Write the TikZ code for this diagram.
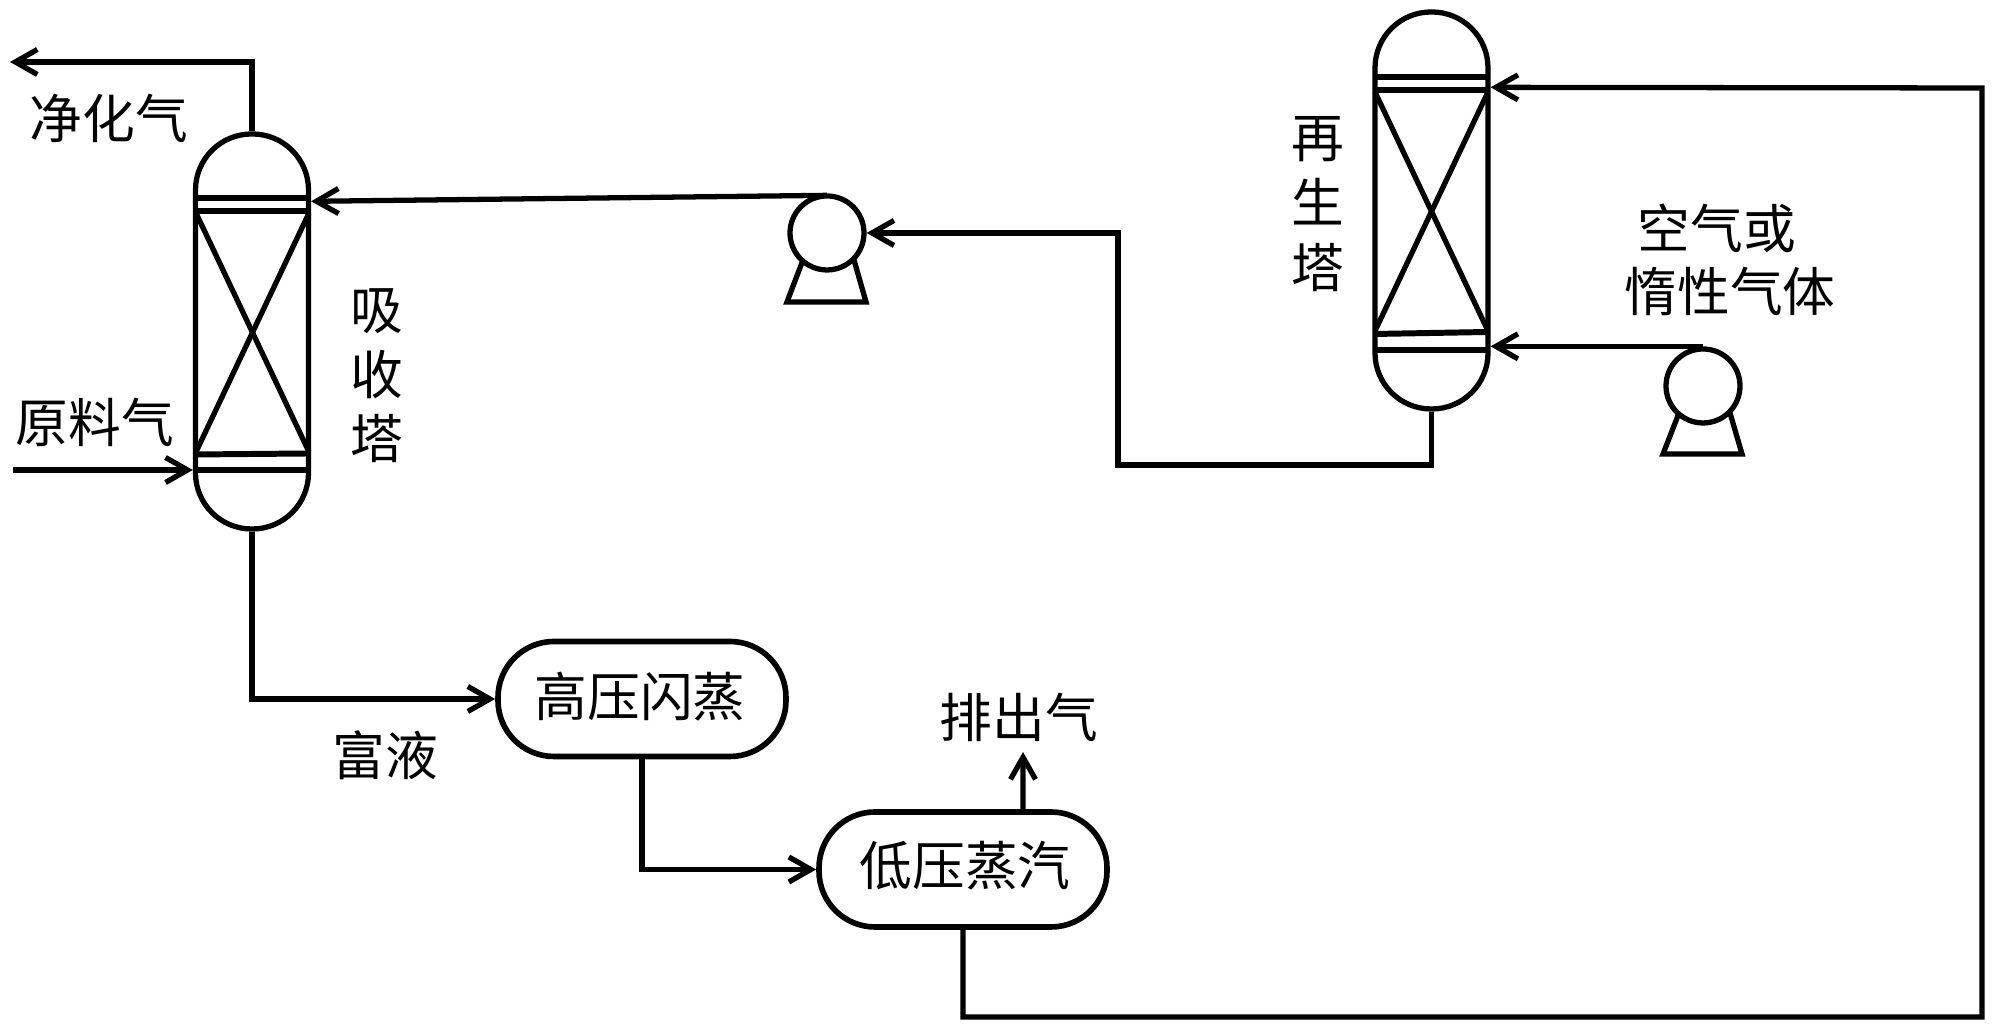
\documentclass[tikz,border=0pt]{standalone}
\usepackage{fontspec}
\newfontfamily\cjk{Noto Sans CJK SC}
\usetikzlibrary{arrows.meta}
\tikzset
{
    flow/.style={->, line width=1.5pt}, % process lines
    tower/.style={draw, line width=1.5pt, rectangle, minimum width=1.13cm, rounded corners=0.56cm, inner sep=0pt},
    vessel/.style={draw, line width=1.6pt, rectangle, minimum width=2.88cm, minimum height=1.15cm, rounded corners=0.56cm, inner sep=0pt},
    pump/.style={draw, line width=1.5pt, circle, minimum size=0.74cm, inner sep=0pt},
    tray/.style={line width=1.7pt},
    leg/.style={line width=1.5pt},
    txt/.style={inner sep=0pt, align=center, font=\fontsize{15}{18.4}\selectfont\cjk},
}

\begin{document}
\begin{tikzpicture}[>={Straight Barb[length=2.2mm,width=2.5mm]}]
    \useasboundingbox (0,0) rectangle (20,10.29);

    % Towers
    \node[tower, minimum height=3.95cm] (t1) at (2.52,6.975) {};
    \node[tower, minimum height=3.97cm] (t2) at (14.315,8.185) {};

    % Tower internals
    \draw[tray] (1.96,8.31) -- (3.09,8.31);
    \draw[tray] (1.96,8.18) -- (3.09,8.18);
    \draw[tray] (1.96,5.745) -- (3.09,5.755);
    \draw[tray] (1.96,5.59) -- (3.09,5.59);
    \draw[leg] (1.96,8.16) -- (3.09,5.77);
    \draw[leg] (3.09,8.16) -- (1.96,5.77);

    \draw[tray] (13.75,9.52) -- (14.88,9.52);
    \draw[tray] (13.75,9.39) -- (14.88,9.39);
    \draw[tray] (13.75,6.95) -- (14.88,6.97);
    \draw[tray] (13.75,6.79) -- (14.88,6.79);
    \draw[leg] (13.75,9.37) -- (14.88,6.98);
    \draw[leg] (14.88,9.37) -- (13.75,6.98);

    % Pumps
    \node[pump] (p1) at (8.27,7.96) {};
    \node[pump] (p2) at (17.03,6.43) {};
    \draw[leg] (8.03,7.69) -- (7.87,7.27) -- (8.66,7.27) -- (8.54,7.69);
    \draw[leg] (16.79,6.16) -- (16.63,5.75) -- (17.42,5.75) -- (17.30,6.16);

    % Flash vessels
    \node[vessel] (hp) at (6.42,3.30) {};
    \node[vessel] (lp) at (9.63,1.595) {};

    % Free ends and bends
    \coordinate (gasout) at (0.10,9.67);
    \coordinate (feed) at (0.13,5.59);
    \coordinate (vent) at (10.23,2.77);
    \coordinate (c1) at (19.82,0.12);
    \coordinate (c2) at (19.82,9.41);
    \coordinate (c3) at (11.18,5.64);

    % Lines
    \draw[flow] (t1.north) |- (gasout);
    \draw[flow] (feed) -- (t1.south west |- feed);
    \draw[flow] ([yshift=-0.02cm]p1.north) -- ([yshift=-0.70cm]t1.north east);
    \draw[flow] (t1.south) |- (hp.west);
    \draw[flow] (hp.south) |- (lp.west);
    \draw[flow] ([xshift=0.60cm]lp.north) -- (vent);
    \draw[flow] (lp.south) |- (c1) -- (c2) -- ([yshift=-0.78cm]t2.north east);
    \draw[flow] (t2.south) |- (c3) |- (p1.east);
    \draw[flow] (p2.north) -- (p2.north -| t2.east);

    % Labels
    \node[txt] (purified) at (1.09,9.11) {净化气};
    \node[txt] (rawgas) at (0.95,6.07) {原料气};
    \node[txt] (absorber) at (3.77,6.53) {吸\\收\\塔};
    \node[txt] (regen) at (13.18,8.25) {再\\生\\塔};
    \node[txt] (air) at (17.17,8.01) {空气或};
    \node[txt] (inert) at (17.30,7.38) {惰性气体};
    \node[txt] (hptext) at (6.40,3.32) {高压闪蒸};
    \node[txt] (lptext) at (9.65,1.63) {低压蒸汽};
    \node[txt] (richliq) at (3.85,2.74) {富液};
    \node[txt] (vented) at (10.19,3.12) {排出气};
\end{tikzpicture}
\end{document}
